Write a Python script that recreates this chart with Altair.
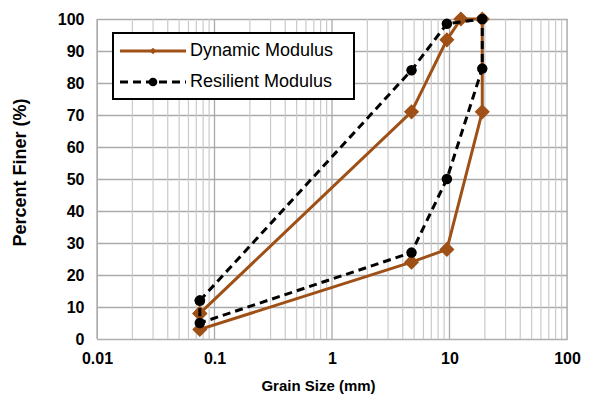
import altair as alt
import pandas as pd

# ---- data ----
dyn_x = [0.075, 4.75, 9.5, 12.5, 19.0, 19.0, 9.5, 4.75, 0.075, 0.075]
dyn_y = [8.0, 71.0, 93.5, 100.0, 100.0, 71.0, 28.0, 24.0, 3.0, 8.0]
res_x = [0.075, 4.75, 9.5, 19.0, 19.0, 9.5, 4.75, 0.075, 0.075]
res_y = [12.0, 84.0, 98.5, 100.0, 84.5, 50.0, 27.0, 5.0, 12.0]
series_names = ["Dynamic Modulus", "Resilient Modulus"]
x_ticks = [0.01, 0.1, 1, 10, 100]
y_ticks = [0, 10, 20, 30, 40, 50, 60, 70, 80, 90, 100]
minor_mult = [2, 3, 4, 5, 6, 7, 8, 9]

BROWN = "#9E5016"
FONT = "Liberation Sans"

dyn = pd.DataFrame({"x": dyn_x, "y": dyn_y, "o": range(len(dyn_x))})
res = pd.DataFrame({"x": res_x, "y": res_y, "o": range(len(res_x))})
minor = pd.DataFrame({"x": [d * m for d in x_ticks[:-1] for m in minor_mult]})
major = pd.DataFrame({"x": x_ticks})

xscale = alt.Scale(type="log", domain=[0.01, 100])
yscale = alt.Scale(domain=[0, 100])
xaxis = alt.Axis(values=x_ticks, format="~g", grid=False, ticks=False,
                 domainColor="#b0b0b0", labelFont=FONT, labelFontWeight="bold",
                 labelFontSize=16, labelColor="black", labelPadding=11,
                 title="Grain Size (mm)", titleFont=FONT, titleFontWeight="bold",
                 titleFontSize=15, titleColor="black", titleX=221, titleY=46,
                 titleBaseline="middle", labelFlush=False, labelOverlap=False)
yaxis = alt.Axis(values=y_ticks, grid=True, gridColor="#aaaaaa", gridWidth=1.3, ticks=False,
                 domainColor="#aaaaaa", labelFont=FONT, labelFontWeight="bold",
                 labelFontSize=16, labelColor="black", labelPadding=13,
                 title="Percent Finer (%)", titleFont=FONT, titleFontWeight="bold",
                 titleFontSize=18, titleColor="black", titleX=-77, titleY=153,
                 titleBaseline="middle", labelFlush=False, labelOverlap=False)

X = alt.X("x:Q", scale=xscale, axis=xaxis)
Y = alt.Y("y:Q", scale=yscale, axis=yaxis)

minor_rules = alt.Chart(minor).mark_rule(color="#cacaca", strokeWidth=1.2).encode(x=X)
major_rules = alt.Chart(major).mark_rule(color="#aaaaaa", strokeWidth=1.3).encode(x=X)

dyn_line = alt.Chart(dyn).mark_line(color=BROWN, strokeWidth=3).encode(x=X, y=Y, order="o:Q")
dyn_pts = alt.Chart(dyn).mark_point(shape="diamond", filled=True, color=BROWN, size=230, opacity=1).encode(x=X, y=Y)
res_line = alt.Chart(res).mark_line(color="black", strokeWidth=3, strokeDash=[8, 5]).encode(x=X, y=Y, order="o:Q")
res_pts = alt.Chart(res).mark_point(shape="circle", filled=True, color="black", size=110, opacity=1).encode(x=X, y=Y)

# ---- legend box ----
one = pd.DataFrame({"a": [0]})
leg_box = alt.Chart(one).mark_rect(fill="white", stroke="black", strokeWidth=2).encode(
    x=alt.value(16), x2=alt.value(257), y=alt.value(14), y2=alt.value(80))
leg_l1 = alt.Chart(one).mark_rule(color=BROWN, strokeWidth=3).encode(
    x=alt.value(23), x2=alt.value(89), y=alt.value(32))
leg_p1 = alt.Chart(one).mark_point(shape="diamond", filled=True, color=BROWN, size=45, opacity=1).encode(
    x=alt.value(56), y=alt.value(32))
leg_l2 = alt.Chart(one).mark_rule(color="black", strokeWidth=3, strokeDash=[8, 5]).encode(
    x=alt.value(23), x2=alt.value(89), y=alt.value(63))
leg_p2 = alt.Chart(one).mark_point(shape="circle", filled=True, color="black", size=75, opacity=1).encode(
    x=alt.value(56), y=alt.value(63))
leg_t1 = alt.Chart(pd.DataFrame({"t": [series_names[0]]})).mark_text(
    align="left", baseline="middle", font=FONT, fontSize=18, color="black").encode(
    x=alt.value(93), y=alt.value(32), text="t:N")
leg_t2 = alt.Chart(pd.DataFrame({"t": [series_names[1]]})).mark_text(
    align="left", baseline="middle", font=FONT, fontSize=18, color="black").encode(
    x=alt.value(93), y=alt.value(63), text="t:N")

chart = alt.layer(
    minor_rules, major_rules, dyn_line, dyn_pts, res_line, res_pts,
    leg_box, leg_l1, leg_p1, leg_l2, leg_p2, leg_t1, leg_t2
).properties(
    width=470, height=320,
    autosize=alt.AutoSizeParams(type="none"),
    padding={"left": 89, "top": 11, "right": 18, "bottom": 56},
).configure_view(stroke=None).configure(background="white")

chart.save("out.html", embed_options={"renderer": "svg", "actions": False})
